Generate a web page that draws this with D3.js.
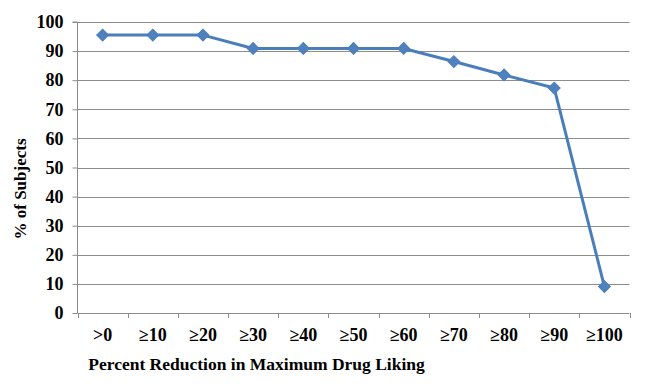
<!DOCTYPE html>
<html><head><meta charset="utf-8">
<script src="https://cdn.jsdelivr.net/npm/d3@7"></script>
<style>body{margin:0;background:#fff}svg{display:block}</style>
</head><body>
<svg id="c" width="656" height="386"></svg>
<script>
const categories = [">0","\u226510","\u226520","\u226530","\u226540","\u226550","\u226560","\u226570","\u226580","\u226590","\u2265100"];
const values = [95.5,95.5,95.5,90.9,90.9,90.9,90.9,86.4,81.8,77.3,9.1];
const yTicks = [0,10,20,30,40,50,60,70,80,90,100];

const svg = d3.select("#c");
const L = 77.5, R = 629.5, T = 22, B = 313;
const x = d3.scaleBand().domain(categories).range([L, R]);
const y = d3.scaleLinear().domain([0,100]).range([B, T]);
const font = '"Liberation Serif", "Times New Roman", serif';

// gridlines
svg.append("g").selectAll("line").data(yTicks.filter(d=>d>0)).join("line")
  .attr("x1", L).attr("x2", R)
  .attr("y1", d=>Math.round(y(d))+0.5).attr("y2", d=>Math.round(y(d))+0.5)
  .attr("stroke", "#8c8c8c").attr("stroke-width", 1);

// y axis
const ya = svg.append("g").attr("transform", `translate(${L},0)`)
  .call(d3.axisLeft(y).tickValues(yTicks).tickSize(5).tickPadding(9));
ya.select(".domain").attr("stroke", "#8c8c8c").attr("d", `M-5,${T}H0V${B}`);
ya.selectAll(".tick line").attr("stroke", "#8c8c8c");
ya.selectAll(".tick text").style("font-family", font).style("font-weight", "bold")
  .style("font-size", "18px").attr("fill", "#000");

// x axis
const xa = svg.append("g").attr("transform", `translate(0,${B+0.5})`)
  .call(d3.axisBottom(x).tickSize(0).tickPadding(15));
xa.select(".domain").attr("stroke", "#8c8c8c").attr("d", `M${L},0H${R}`);
xa.selectAll(".tick text").style("font-family", font).style("font-weight", "bold")
  .style("font-size", "18px").attr("fill", "#000");
svg.append("g").selectAll("line").data(d3.range(categories.length+1)).join("line")
  .attr("x1", i=>Math.round(L + i*x.step())+0.5).attr("x2", i=>Math.round(L + i*x.step())+0.5)
  .attr("y1", B).attr("y2", B+5).attr("stroke", "#8c8c8c");

// line
const line = d3.line().x((d,i)=>x(categories[i])+x.bandwidth()/2).y(d=>y(d));
svg.append("path").datum(values).attr("d", line)
  .attr("fill", "none").attr("stroke", "#4a7ebb").attr("stroke-width", 3)
  .attr("stroke-linejoin", "round");

// markers
svg.append("g").selectAll("path").data(values).join("path")
  .attr("transform", (d,i)=>`translate(${x(categories[i])+x.bandwidth()/2},${y(d)}) rotate(45)`)
  .attr("d", d3.symbol().type(d3.symbolSquare).size(70))
  .attr("fill", "#4f81bd").attr("stroke", "#4a7ebb").attr("stroke-width", 1);

// titles
svg.append("text").attr("x", 256.5).attr("y", 370).attr("text-anchor", "middle")
  .style("font-family", font).style("font-weight", "bold").style("font-size", "17.5px")
  .text("Percent Reduction in Maximum Drug Liking");
svg.append("text").attr("transform", `translate(26,189) rotate(-90)`)
  .attr("text-anchor", "middle")
  .style("font-family", font).style("font-weight", "bold").style("font-size", "17px")
  .text("% of Subjects");
</script>
</body></html>
